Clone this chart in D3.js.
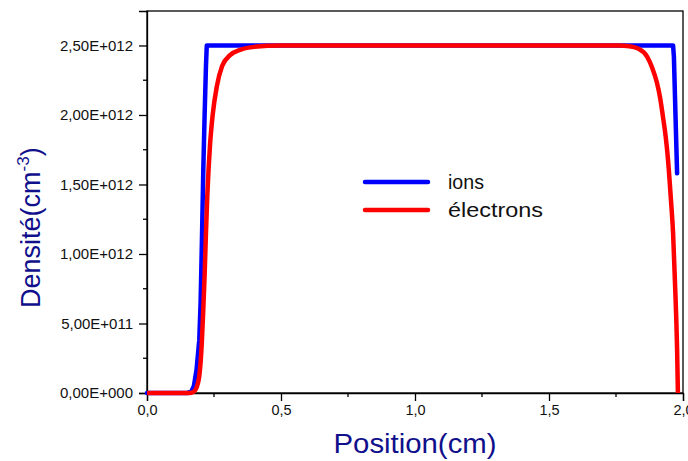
<!DOCTYPE html>
<html><head><meta charset="utf-8">
<script src="https://cdn.jsdelivr.net/npm/d3@7"></script>
<style>body{margin:0;background:#fff}svg{display:block}text{font-family:"Liberation Sans",Arial,sans-serif}</style>
</head><body>
<svg id="c" width="688" height="461"></svg>
<script>
// Data (densities in units of 1E12 cm^-3)
const ionsX = [0, 0.15, 0.165, 0.175, 0.185, 0.195, 0.2, 0.205, 0.21, 0.215, 0.22, 0.223, 0.5, 1.0, 1.5, 1.963, 1.966, 1.978];
const ionsY = [0, 0, 0.01, 0.05, 0.17, 0.38, 0.65, 1.1, 1.6, 2.0, 2.35, 2.5, 2.5, 2.5, 2.5, 2.5, 2.42, 1.58];
const elecX = [0, 0.16, 0.175, 0.185, 0.195, 0.2, 0.205, 0.21, 0.215, 0.22, 0.225, 0.23, 0.235, 0.245, 0.26, 0.28, 0.31, 0.35, 0.4, 0.5, 1.0, 1.5, 1.76, 1.8, 1.83, 1.866, 1.885, 1.903, 1.915, 1.925, 1.935, 1.944, 1.955, 1.963, 1.97, 1.978, 1.981];
const elecY = [0, 0, 0.01, 0.04, 0.12, 0.22, 0.38, 0.6, 0.85, 1.15, 1.42, 1.62, 1.78, 2.0, 2.2, 2.35, 2.43, 2.47, 2.49, 2.5, 2.5, 2.5, 2.5, 2.495, 2.48, 2.42, 2.34, 2.23, 2.12, 1.99, 1.85, 1.68, 1.39, 1.15, 0.8, 0.31, 0];
const xTicks = [0, 0.5, 1.0, 1.5, 2.0];
const xTickLabels = ["0,0", "0,5", "1,0", "1,5", "2,0"];
const yTicks = [0, 0.5, 1.0, 1.5, 2.0, 2.5];
const yTickLabels = ["0,00E+000", "5,00E+011", "1,00E+012", "1,50E+012", "2,00E+012", "2,50E+012"];
const seriesNames = ["ions", "électrons"];

const svg = d3.select("#c");
const L = 147, R = 683, T = 11, B = 393;
const x = d3.scaleLinear().domain([0, 2]).range([L, R]);
const y = d3.scaleLinear().domain([0, 2.748]).range([B, T]);

// frame
svg.append("rect").attr("x", L).attr("y", T).attr("width", R - L).attr("height", B - T)
  .attr("fill", "none").attr("stroke", "#000").attr("stroke-width", 1.3);

// minor ticks
const xMinor = d3.range(0.25, 2, 0.5);
svg.selectAll(".xm").data(xMinor).enter().append("line")
  .attr("x1", d => x(d)).attr("x2", d => x(d)).attr("y1", B).attr("y2", B + 4)
  .attr("stroke", "#000").attr("stroke-width", 1.3);
const yMinor = d3.range(0.25, 2.75, 0.5);
svg.selectAll(".ym").data(yMinor).enter().append("line")
  .attr("y1", d => y(d)).attr("y2", d => y(d)).attr("x1", L).attr("x2", L - 4)
  .attr("stroke", "#000").attr("stroke-width", 1.3);

// axes
const xAxis = d3.axisBottom(x).tickValues(xTicks).tickSize(8).tickPadding(4)
  .tickFormat((d, i) => xTickLabels[i]);
const gx = svg.append("g").attr("transform", `translate(0,${B})`).call(xAxis);
const yAxis = d3.axisLeft(y).tickValues(yTicks).tickSize(8).tickPadding(6)
  .tickFormat((d, i) => yTickLabels[i]);
const gy = svg.append("g").attr("transform", `translate(${L},0)`).call(yAxis);
[gx, gy].forEach(g => {
  g.select(".domain").attr("stroke", "#000").attr("stroke-width", 1.3);
  g.selectAll(".tick line").attr("stroke", "#000").attr("stroke-width", 1.3);
  g.selectAll(".tick text").attr("fill", "#111")
    .style("font-family", '"Liberation Sans",Arial,sans-serif');
});
gx.selectAll(".tick text").style("font-size", "14.5px");
gy.selectAll(".tick text").style("font-size", "15px");

// lines
const line = d3.line().x(d => x(d[0])).y(d => y(d[1]));
const ionsData = ionsX.map((v, i) => [v, ionsY[i]]);
const elecData = elecX.map((v, i) => [v, elecY[i]]);
svg.append("path").datum(ionsData).attr("d", line)
  .attr("fill", "none").attr("stroke", "#0000ff").attr("stroke-width", 4.5)
  .attr("stroke-linejoin", "round").attr("stroke-linecap", "round");
svg.append("path").datum(elecData).attr("d", line.curve(d3.curveMonotoneX))
  .attr("fill", "none").attr("stroke", "#ff0000").attr("stroke-width", 4.5)
  .attr("stroke-linejoin", "round").attr("stroke-linecap", "butt");

// legend
const colors = ["#0000ff", "#ff0000"];
const legendW = [36, 95];
const lg = svg.append("g");
seriesNames.forEach((n, i) => {
  const ly = 182 + i * 28;
  lg.append("line").attr("x1", 365).attr("x2", 428).attr("y1", ly).attr("y2", ly)
    .attr("stroke", colors[i]).attr("stroke-width", 4.5).attr("stroke-linecap", "round");
  lg.append("text").attr("x", 448).attr("y", ly + 7).text(n)
    .style("font-size", "20px").attr("fill", "#111")
    .attr("textLength", legendW[i]).attr("lengthAdjust", "spacingAndGlyphs");
});

// axis titles
const navy = "#10108c";
svg.append("text").attr("x", 415).attr("y", 453).attr("text-anchor", "middle")
  .style("font-size", "27px").attr("fill", navy)
  .attr("textLength", 163).attr("lengthAdjust", "spacingAndGlyphs").text("Position(cm)");

const yt = svg.append("text").attr("transform", "translate(40,308) rotate(-90)")
  .style("font-size", "27px").attr("fill", navy);
yt.append("tspan").text("Densité(cm");
yt.append("tspan").attr("dy", -11).style("font-size", "17px").text("-3");
yt.append("tspan").attr("dy", 11).text(")");
</script>
</body></html>
